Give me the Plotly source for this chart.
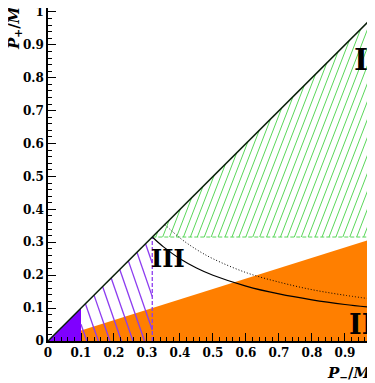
"""
Phase-space regions in the (P-/M_B, P+/M_B) plane
"""
import plotly.graph_objects as go

# region boundaries
diag_x = [0.0, 1.0]
diag_y = [0.0, 1.0]

orange_x = [0.1, 0.1, 1.0, 1.0]
orange_y = [0.0, 0.0316, 0.316, 0.0]

purple_solid_x = [0.0, 0.1, 0.1]
purple_solid_y = [0.0, 0.1, 0.0]

purple_hatch_x = [0.1, 0.1, 0.316, 0.316]
purple_hatch_y = [0.0, 0.1, 0.316, 0.0]

green_hatch_x = [0.316, 1.0, 1.0]
green_hatch_y = [0.316, 1.0, 0.316]

green_edge_x = [0.316, 1.0]
green_edge_y = [0.316, 0.316]

purple_edge_x = [0.316, 0.316]
purple_edge_y = [0.0, 0.316]

solid_curve_x = [0.316, 0.35, 0.4, 0.45, 0.5, 0.6, 0.7, 0.8, 0.9, 1.0]
solid_curve_y = [0.316, 0.286, 0.25, 0.222, 0.2, 0.167, 0.143, 0.125, 0.111, 0.1]

dotted_curve_x = [0.354, 0.4, 0.45, 0.5, 0.6, 0.7, 0.8, 0.9, 1.0]
dotted_curve_y = [0.354, 0.313, 0.278, 0.25, 0.208, 0.179, 0.156, 0.139, 0.125]

region_labels = ["I", "II", "III"]
region_label_x = [0.95, 0.95, 0.365]
region_label_y = [0.855, 0.05, 0.252]
region_label_size = [30, 27, 24]

ORANGE = "#ff7f00"
PURPLE = "#7f00ff"
PURPLE_LINE = "#8c3cf0"
GREEN = "#5ad75a"


def hatch_lines(px, py, k, spacing, direction=1):
    # lines of slope direction*k clipped to a convex polygon
    nx, ny = k, -direction
    pts = list(zip(px, py))
    vals = [nx * x + ny * y for x, y in pts]
    step = k * spacing
    xs, ys = [], []
    c = min(vals) + step / 2
    while c < max(vals):
        hits = []
        for i in range(len(pts)):
            (x1, y1), (x2, y2) = pts[i], pts[(i + 1) % len(pts)]
            f1 = nx * x1 + ny * y1 - c
            f2 = nx * x2 + ny * y2 - c
            if f1 * f2 <= 0 and f1 != f2:
                t = f1 / (f1 - f2)
                hits.append((x1 + t * (x2 - x1), y1 + t * (y2 - y1)))
        if len(hits) >= 2:
            hits.sort(key=lambda p: p[1])
            xs += [hits[0][0], hits[-1][0], None]
            ys += [hits[0][1], hits[-1][1], None]
        c += step
    return xs, ys


fig = go.Figure()

fig.add_trace(go.Scatter(x=orange_x, y=orange_y, fill="toself", fillcolor=ORANGE,
                         mode="lines", line=dict(width=0), hoverinfo="skip"))
fig.add_trace(go.Scatter(x=purple_solid_x, y=purple_solid_y, fill="toself", fillcolor=PURPLE,
                         mode="lines", line=dict(width=0), hoverinfo="skip"))

hx, hy = hatch_lines(purple_hatch_x, purple_hatch_y, 2.9, 0.035, direction=-1)
fig.add_trace(go.Scatter(x=hx, y=hy, mode="lines", line=dict(color=PURPLE_LINE, width=1.3)))

gx, gy = hatch_lines(green_hatch_x, green_hatch_y, 2.6, 0.021, direction=1)
fig.add_trace(go.Scatter(x=gx, y=gy, mode="lines", line=dict(color=GREEN, width=1)))

fig.add_trace(go.Scatter(x=green_edge_x, y=green_edge_y, mode="lines",
                         line=dict(color=GREEN, width=1, dash="4px,2px")))
fig.add_trace(go.Scatter(x=purple_edge_x, y=purple_edge_y, mode="lines",
                         line=dict(color=PURPLE_LINE, width=1.3, dash="4px,2px")))

fig.add_trace(go.Scatter(x=solid_curve_x, y=solid_curve_y, mode="lines",
                         line=dict(color="black", width=1.2, shape="spline")))
fig.add_trace(go.Scatter(x=dotted_curve_x, y=dotted_curve_y, mode="lines",
                         line=dict(color="black", width=1, dash="1px,2px", shape="spline")))
fig.add_trace(go.Scatter(x=diag_x, y=diag_y, mode="lines",
                         line=dict(color="#0a1f0a", width=1.5)))

for txt, lx, ly, sz in zip(region_labels, region_label_x, region_label_y, region_label_size):
    fig.add_annotation(x=lx, y=ly, text=f"<b>{txt}</b>", showarrow=False,
                       font=dict(family="DejaVu Serif", size=sz, color="black"))

fig.add_annotation(x=0.839, xref="x", y=-0.099, yref="paper", xanchor="left", yanchor="middle",
                   text="<b><i>P</i><sub>−</sub>/<i>M</i><sub>B</sub></b>", showarrow=False,
                   font=dict(family="DejaVu Serif", size=15, color="black"))
fig.add_annotation(x=-0.101, xref="paper", y=0.952, yref="paper", xanchor="center", yanchor="middle",
                   textangle=-90, text="<b><i>P</i><sub>+</sub>/<i>M</i><sub>B</sub></b>", showarrow=False,
                   font=dict(family="DejaVu Serif", size=15, color="black"))
# right-hand "1" tick label, cut off by the page edge as in the reference
fig.add_annotation(x=1.0, xref="x", y=-0.036, yref="paper", yanchor="middle",
                   text="<b>1</b>", showarrow=False,
                   font=dict(family="DejaVu Serif", size=12, color="black"))

axis_common = dict(
    showline=True, linecolor="black", linewidth=1.5, ticks="inside", ticklen=8,
    tickcolor="black", tickwidth=1.2, dtick=0.1, showgrid=False, zeroline=False,
    tickfont=dict(family="DejaVu Serif", size=12, color="black", weight="bold"),
    minor=dict(dtick=0.02, ticks="inside", ticklen=4, tickcolor="black", tickwidth=1),
    tickformat="~g", automargin=False, ticklabeloverflow="allow",
)
fig.update_xaxes(range=[0, 0.991], **axis_common)
fig.update_yaxes(range=[0, 1.012], **axis_common)

# the page body adds an 8px offset, so margins are shifted to compensate
fig.update_layout(
    width=375, height=383,
    margin=dict(l=40, r=8, t=0, b=50),
    showlegend=False,
    plot_bgcolor="white",
    paper_bgcolor="white",
)

fig.write_html("out.html")
